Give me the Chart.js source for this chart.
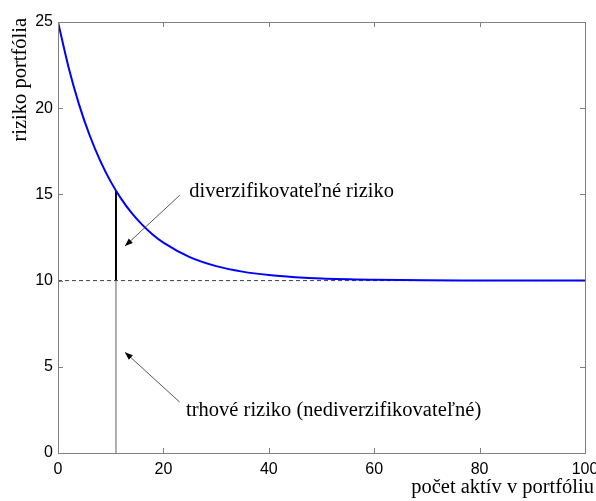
<!DOCTYPE html>
<html>
<head>
<meta charset="utf-8">
<script src="https://cdn.jsdelivr.net/npm/chart.js@4/dist/chart.umd.min.js"></script>
<style>
  body { margin: 0; background: #fff; }
  canvas { display: block; }
</style>
</head>
<body>
<canvas id="riskChart" width="596" height="501"></canvas>
<script>
// values
const assetCounts = [0, 2, 4, 6, 8, 10, 12, 14, 16, 18, 20, 25, 30, 35, 40, 45, 50, 60, 70, 80, 90, 100];
const portfolioRisk = [25, 22.38, 20.21, 18.43, 16.96, 15.74, 14.74, 13.91, 13.23, 12.66, 12.2, 11.36, 10.84, 10.52, 10.32, 10.2, 10.12, 10.05, 10.02, 10.01, 10, 10];
const marketRisk = 10;
const markerAssets = 11;
const markerRisk = 15.2;
const xTicks = [0, 20, 40, 60, 80, 100];
const yTicks = [0, 5, 10, 15, 20, 25];

const labelDiversifiable = "diverzifikovateľné riziko";
const labelMarket = "trhové riziko (nediverzifikovateľné)";
const xTitle = "počet aktív v portfóliu";
const yTitle = "riziko portfólia";

const curve = assetCounts.map((x, i) => ({ x: x, y: portfolioRisk[i] }));

// text + arrows, placed in data units
const notes = [
  { text: labelDiversifiable, tx: 24.9, ty: 15.15, from: [23.1, 14.95], to: [12.7, 12.0] },
  { text: labelMarket, tx: 24.3, ty: 2.45, from: [23.1, 2.95], to: [12.7, 5.85] }
];

const serif = "20.5px 'Liberation Serif', 'Times New Roman', serif";

const framePlugin = {
  id: "frame",
  afterDraw(chart) {
    const ctx = chart.ctx;
    const a = chart.chartArea;
    const xs = chart.scales.x, ys = chart.scales.y;
    ctx.save();
    // box
    ctx.strokeStyle = "#808080";
    ctx.lineWidth = 1;
    ctx.strokeRect(Math.round(a.left) + 0.5, Math.round(a.top) + 0.5,
      Math.round(a.right - a.left), Math.round(a.bottom - a.top));
    // inward ticks
    ctx.beginPath();
    xTicks.forEach(v => {
      const px = Math.round(xs.getPixelForValue(v)) + 0.5;
      ctx.moveTo(px, a.bottom); ctx.lineTo(px, a.bottom - 5);
      ctx.moveTo(px, a.top); ctx.lineTo(px, a.top + 5);
    });
    yTicks.forEach(v => {
      const py = Math.round(ys.getPixelForValue(v)) + 0.5;
      ctx.moveTo(a.left, py); ctx.lineTo(a.left + 5, py);
      ctx.moveTo(a.right, py); ctx.lineTo(a.right - 5, py);
    });
    ctx.stroke();

    // annotations
    ctx.font = serif;
    ctx.fillStyle = "#000";
    ctx.textBaseline = "middle";
    ctx.textAlign = "left";
    notes.forEach(n => {
      ctx.fillText(n.text, xs.getPixelForValue(n.tx), ys.getPixelForValue(n.ty));
      const x1 = xs.getPixelForValue(n.from[0]), y1 = ys.getPixelForValue(n.from[1]);
      const x2 = xs.getPixelForValue(n.to[0]), y2 = ys.getPixelForValue(n.to[1]);
      ctx.strokeStyle = "#303030";
      ctx.lineWidth = 0.8;
      ctx.beginPath();
      ctx.moveTo(x1, y1); ctx.lineTo(x2, y2);
      ctx.stroke();
      const ang = Math.atan2(y2 - y1, x2 - x1);
      const len = 8, half = 3;
      ctx.beginPath();
      ctx.moveTo(x2, y2);
      ctx.lineTo(x2 - len * Math.cos(ang) + half * Math.sin(ang), y2 - len * Math.sin(ang) - half * Math.cos(ang));
      ctx.lineTo(x2 - len * Math.cos(ang) - half * Math.sin(ang), y2 - len * Math.sin(ang) + half * Math.cos(ang));
      ctx.closePath();
      ctx.fill();
    });

    // axis titles
    ctx.textAlign = "right";
    ctx.textBaseline = "alphabetic";
    ctx.fillText(xTitle, 594, 493);
    ctx.translate(26, 18);
    ctx.rotate(-Math.PI / 2);
    ctx.textAlign = "right";
    ctx.fillText(yTitle, 0, 0);
    ctx.restore();
  }
};

const ctx = document.getElementById("riskChart").getContext("2d");

new Chart(ctx, {
  type: "scatter",
  data: {
    datasets: [
      {
        data: curve,
        showLine: true,
        borderColor: "#0000ff",
        borderWidth: 2,
        pointRadius: 0,
        cubicInterpolationMode: "monotone"
      },
      {
        data: [{ x: 0, y: marketRisk }, { x: 100, y: marketRisk }],
        showLine: true,
        borderColor: "#404040",
        borderWidth: 1,
        borderDash: [4, 3],
        pointRadius: 0
      },
      {
        data: [{ x: markerAssets, y: 0 }, { x: markerAssets, y: marketRisk }],
        showLine: true,
        borderColor: "#606060",
        borderWidth: 1,
        pointRadius: 0
      },
      {
        data: [{ x: markerAssets, y: marketRisk }, { x: markerAssets, y: markerRisk }],
        showLine: true,
        borderColor: "#000000",
        borderWidth: 2,
        pointRadius: 0
      }
    ]
  },
  options: {
    responsive: false,
    animation: false,
    layout: { padding: { left: 0, top: 22, right: 11, bottom: 0 } },
    plugins: {
      legend: { display: false },
      tooltip: { enabled: false }
    },
    scales: {
      x: {
        type: "linear",
        min: 0,
        max: 100,
        grid: { display: false, drawTicks: false },
        border: { display: false },
        afterBuildTicks: s => { s.ticks = xTicks.map(v => ({ value: v })); },
        afterFit: s => { s.height = 48; s.paddingLeft = 0; s.paddingRight = 0; },
        ticks: {
          color: "#000",
          padding: 7,
          maxRotation: 0,
          font: { family: "'Liberation Sans', Arial, sans-serif", size: 16 }
        }
      },
      y: {
        min: 0,
        max: 25,
        grid: { display: false, drawTicks: false },
        border: { display: false },
        afterBuildTicks: s => { s.ticks = yTicks.map(v => ({ value: v })); },
        afterFit: s => { s.width = 58; s.paddingTop = 0; s.paddingBottom = 0; },
        ticks: {
          color: "#000",
          padding: 5,
          font: { family: "'Liberation Sans', Arial, sans-serif", size: 16 }
        }
      }
    }
  },
  plugins: [framePlugin]
});
</script>
</body>
</html>
